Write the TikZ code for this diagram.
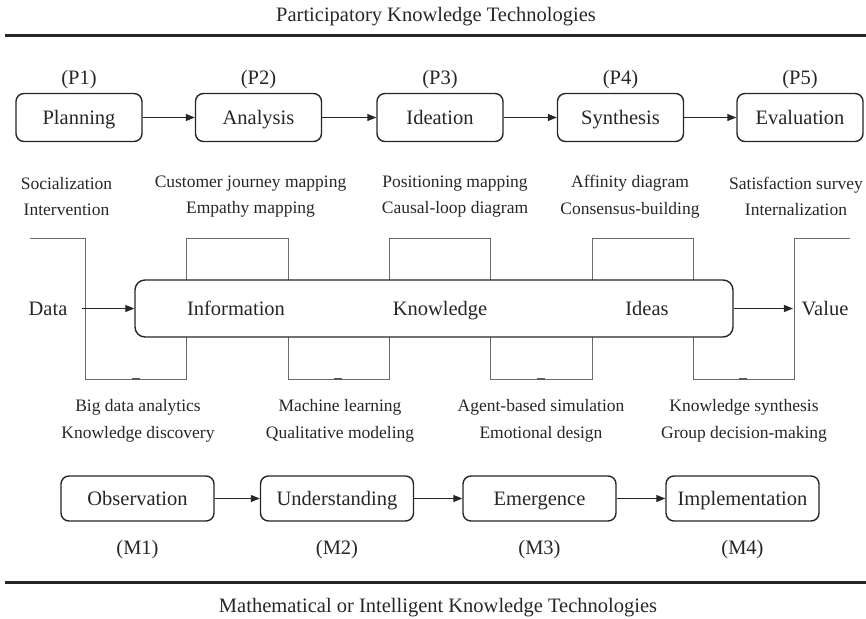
\documentclass[tikz,border=0pt]{standalone}
\usepackage{fontspec}
\setmainfont{Liberation Serif}
\usetikzlibrary{arrows.meta}
\definecolor{ink}{HTML}{262626}
\definecolor{waveline}{HTML}{6A6A6A}
\begin{document}
\begin{tikzpicture}[x=1pt,y=-1pt,
  every node/.style={inner sep=0pt, text=ink},
  caps/.style={text height=13.5pt, text depth=0pt},
  stage/.style={draw=ink, line width=1.4pt, rounded corners=8pt, fill=white,
    minimum height=48pt, caps, font=\fontsize{20.5}{24}\selectfont},
  pstage/.style={stage, minimum width=126pt},
  mstage/.style={stage, minimum width=153pt, minimum height=45pt},
  lbl/.style={caps, font=\fontsize{20.5}{24}\selectfont},
  tech/.style={font=\fontsize{17.5}{26.5}\selectfont, align=center},
  flow/.style={draw=ink, line width=1pt, -{Triangle[length=9pt,width=7pt]}},
  wave/.style={draw=waveline, line width=1pt},
  joint/.style={draw=waveline!85!black, line width=1.7pt},
  rule/.style={draw=ink, line width=3pt}]
\useasboundingbox (0,0) rectangle (866,618);

% headings and separating rules
\node[lbl] (toptitle) at (436,15) {Participatory Knowledge Technologies};
\node[lbl] (bottitle) at (438,606) {Mathematical or Intelligent Knowledge Technologies};
\draw[rule] (5,36) -- (866,36);
\draw[rule] (5,582) -- (866,582);

% participatory stages
\node[pstage] (p1) at (79,117.5) {Planning};
\node[pstage] (p2) at (258.5,117.5) {Analysis};
\node[pstage] (p3) at (440,117.5) {Ideation};
\node[pstage] (p4) at (620.5,117.5) {Synthesis};
\node[pstage] (p5) at (800,117.5) {Evaluation};
\foreach \i in {1,...,5} {\node[lbl] (pl\i) at (p\i |- 0,78) {(P\i)};}
\draw[flow] (p1) -- (p2);
\draw[flow] (p2) -- (p3);
\draw[flow] (p3) -- (p4);
\draw[flow] (p4) -- (p5);

% participatory techniques
\node[tech] (t1) at (66.5,196.5) {Socialization\\Intervention};
\node[tech] (t2) at (250.5,196.5) {Customer journey mapping\\Empathy mapping};
\node[tech] (t3) at (455,196.5) {Positioning mapping\\Causal-loop diagram};
\node[tech] (t4) at (630,196.5) {Affinity diagram\\Consensus-building};
\node[tech] (t5) at (796,196.5) {Satisfaction survey\\Internalization};

% square wave linking both layers
\draw[wave] (30,238) -- (85.7,238) -- (85.7,379) -- (186.7,379) -- (186.7,238)
  -- (288.3,238) -- (288.3,379) -- (389.3,379) -- (389.3,238) -- (490.7,238)
  -- (490.7,379) -- (592.3,379) -- (592.3,238) -- (693.3,238) -- (693.3,379)
  -- (794.3,379) -- (794.3,238) -- (850,238);
\foreach \x in {136,338,541,743} {\draw[joint] (\x-4,379) -- (\x+4,379);}

% value chain
\node[draw=ink, line width=1.4pt, rounded corners=10pt, fill=white,
  minimum width=598pt, minimum height=57pt] (core) at (434,308.5) {};
\node[lbl] (info) at (236,308.5) {Information};
\node[lbl] (know) at (440,308.5) {Knowledge};
\node[lbl] (idea) at (647,308.5) {Ideas};
\node[lbl] (data) at (48,308.5) {Data};
\node[lbl] (value) at (825,308.5) {Value};
\draw[flow] ([xshift=14pt]data.east) -- (core.west |- data.east);
\draw[flow] (core.east |- value.west) -- ([xshift=-8.5pt]value.west);

% mathematical techniques
\node[tech] (b1) at (138,421) {Big data analytics\\Knowledge discovery};
\node[tech] (b2) at (340,421) {Machine learning\\Qualitative modeling};
\node[tech] (b3) at (541,421) {Agent-based simulation\\Emotional design};
\node[tech] (b4) at (744,421) {Knowledge synthesis\\Group decision-making};

% mathematical stages
\node[mstage] (m1) at (137.5,498.5) {Observation};
\node[mstage] (m2) at (337,498.5) {Understanding};
\node[mstage] (m3) at (539.5,498.5) {Emergence};
\node[mstage] (m4) at (742.5,498.5) {Implementation};
\foreach \i in {1,...,4} {\node[lbl] (ml\i) at (m\i |- 0,548) {(M\i)};}
\draw[flow] (m1) -- (m2);
\draw[flow] (m2) -- (m3);
\draw[flow] (m3) -- (m4);
\end{tikzpicture}
\end{document}
